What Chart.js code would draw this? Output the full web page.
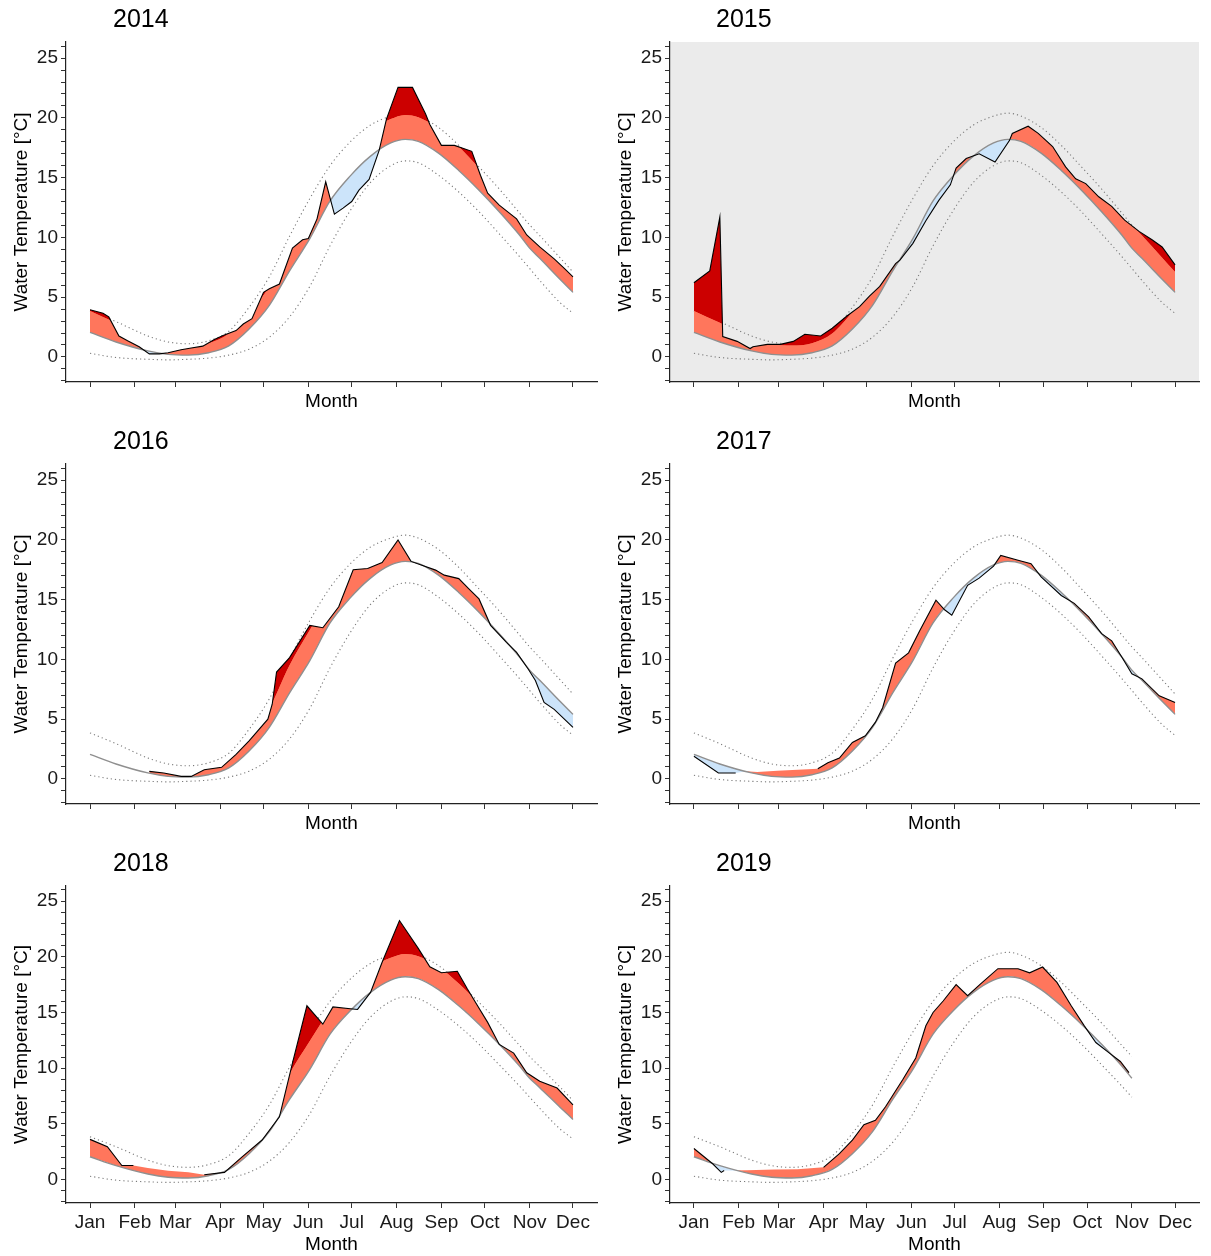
<!DOCTYPE html>
<html>
<head>
<meta charset="utf-8">
<script src="https://cdn.jsdelivr.net/npm/chart.js@4.4.1/dist/chart.umd.min.js"></script>
<style>
  body { margin: 0; background: #fff; }
  #wrap { position: relative; width: 1211px; height: 1256px; }
  #wrap canvas { position: absolute; }
</style>
</head>
<body>
<div id="wrap"></div>
<script>
// x axis: day of year, ticks on the first day of each month
const monthStarts = [1, 32, 60, 91, 121, 152, 182, 213, 244, 274, 305, 335];
const monthLabels = ['Jan', 'Feb', 'Mar', 'Apr', 'May', 'Jun', 'Jul', 'Aug', 'Sep', 'Oct', 'Nov', 'Dec'];
const yTicks = [-2, -1, 0, 1, 2, 3, 4, 5, 6, 7, 8, 9, 10, 11, 12, 13, 14, 15, 16, 17, 18, 19, 20, 21, 22, 23, 24, 25, 26];
const yMajor = [0, 5, 10, 15, 20, 25];

// climatology shared by all years
const climDays   = [1, 19, 41, 55, 69, 83, 97, 111, 125, 139, 153, 167, 181, 195, 209, 219, 228, 242, 256, 270, 284, 298, 305, 312, 326, 335];
const seasClim   = [2.05, 1.25, 0.5, 0.21, 0.15, 0.35, 0.92, 2.33, 4.31, 7.2, 9.9, 13.05, 15.15, 16.8, 17.9, 18.2, 18.04, 17.05, 15.6, 13.95, 12.15, 10.2, 9.1, 8.25, 6.5, 5.4];
const threshClim = [3.85, 2.85, 1.55, 1.05, 0.95, 1.15, 1.95, 3.75, 5.9, 9.5, 12.45, 15.2, 17.4, 19.0, 19.9, 20.25, 20.05, 19.1, 17.6, 15.8, 14.05, 12.05, 11.05, 10.15, 8.3, 7.1];
const upperClim  = [3.85, 2.95, 1.75, 1.25, 1.1, 1.35, 2.15, 4.15, 6.7, 10.1, 13.25, 16.0, 18.0, 19.4, 20.15, 20.4, 20.15, 19.2, 17.7, 15.9, 14.05, 12.05, 11.05, 10.15, 8.3, 7.1];
const lowerClim  = [0.3, -0.05, -0.2, -0.25, -0.2, -0.1, 0.15, 0.65, 1.65, 3.35, 5.9, 9.3, 12.25, 14.6, 16.0, 16.4, 16.25, 15.2, 13.8, 12.15, 10.3, 8.4, 7.4, 6.4, 4.55, 3.65];

// observed water temperature per year
const days2014  = [1, 10, 14, 21, 27, 35, 42, 49, 55, 64, 71, 79, 87, 93, 102, 107, 113, 121, 125, 132, 141, 148, 152, 158, 164, 170, 176, 182, 187, 194, 201, 206, 214, 224, 233, 236, 244, 253, 265, 271, 276, 284, 296, 303, 312, 322, 329, 335];
const temps2014 = [3.95, 3.65, 3.35, 1.75, 1.35, 0.85, 0.25, 0.25, 0.35, 0.6, 0.75, 0.9, 1.45, 1.8, 2.2, 2.75, 3.2, 5.4, 5.7, 6.1, 9.1, 9.8, 9.9, 11.55, 14.65, 11.95, 12.45, 13.0, 13.95, 14.85, 17.3, 19.9, 22.55, 22.55, 20.35, 19.45, 17.7, 17.7, 17.2, 15.2, 13.7, 12.7, 11.55, 10.2, 9.2, 8.2, 7.4, 6.7];

const days2015  = [1, 12, 19, 21, 31, 40, 42, 52, 61, 70, 78, 89, 97, 107, 116, 123, 130, 141, 144, 153, 162, 171, 179, 183, 190, 199, 210, 220, 222, 233, 240, 250, 259, 266, 273, 282, 291, 300, 310, 319, 326, 335];
const temps2015 = [6.2, 7.2, 11.7, 1.7, 1.3, 0.7, 0.85, 1.05, 1.05, 1.3, 1.9, 1.75, 2.4, 3.4, 4.2, 5.1, 5.9, 7.8, 8.1, 9.5, 11.4, 13.1, 14.4, 15.8, 16.6, 17.0, 16.3, 18.1, 18.7, 19.3, 18.7, 17.6, 15.9, 14.9, 14.5, 13.4, 12.6, 11.45, 10.5, 9.8, 9.2, 7.7];

const days2016  = [42, 52, 64, 71, 80, 92, 102, 111, 124, 127, 130, 139, 153, 162, 173, 183, 193, 203, 214, 223, 230, 240, 246, 256, 263, 270, 278, 289, 296, 304, 309, 315, 322, 335];
const temps2016 = [0.63, 0.49, 0.21, 0.21, 0.77, 0.97, 2.05, 3.18, 5.0, 6.25, 8.94, 10.15, 12.85, 12.65, 14.4, 17.5, 17.6, 18.1, 20.0, 18.2, 17.9, 17.47, 17.05, 16.76, 15.9, 15.06, 12.85, 11.43, 10.58, 9.2, 8.23, 6.4, 5.82, 4.31];

const days2017  = [1, 18, 30, 37, 45, 59, 73, 87, 94, 102, 111, 120, 127, 132, 141, 150, 158, 169, 175, 180, 191, 199, 209, 214, 226, 235, 242, 256, 265, 275, 284, 291, 298, 305, 312, 324, 335];
const temps2017 = [1.9, 0.49, 0.49, 0.65, 0.58, 0.69, 0.77, 0.85, 1.35, 1.75, 3.05, 3.61, 4.75, 5.96, 9.7, 10.55, 12.45, 14.95, 14.15, 13.7, 16.2, 16.8, 17.8, 18.7, 18.3, 18.0, 16.9, 15.35, 14.69, 13.55, 12.15, 11.55, 10.2, 8.8, 8.37, 6.95, 6.4];

const days2018  = [1, 13, 23, 31, 41, 55, 69, 80, 94, 106, 120, 132, 141, 151, 162, 169, 181, 186, 195, 203, 215, 228, 236, 244, 255, 262, 269, 276, 284, 294, 303, 312, 324, 335];
const temps2018 = [3.61, 2.95, 1.26, 1.26, 1.05, 0.8, 0.65, 0.44, 0.65, 2.02, 3.55, 5.63, 10.45, 15.6, 13.95, 15.5, 15.33, 15.27, 16.8, 19.5, 23.25, 20.75, 19.1, 18.56, 18.7, 17.1, 15.6, 14.11, 12.13, 11.35, 9.59, 8.83, 8.22, 6.7];

const days2019  = [1, 14, 20, 22, 38, 57, 73, 91, 102, 111, 119, 127, 134, 146, 155, 162, 167, 174, 183, 191, 200, 212, 226, 234, 243, 253, 263, 272, 280, 289, 297, 303];
const temps2019 = [2.79, 1.42, 0.65, 0.81, 0.85, 0.9, 0.93, 1.1, 2.33, 3.55, 4.92, 5.32, 6.54, 8.98, 10.91, 13.8, 15.0, 16.03, 17.5, 16.5, 17.56, 18.93, 18.93, 18.56, 19.08, 17.7, 15.58, 13.8, 12.3, 11.4, 10.6, 9.6];

// stretches (first day, last day) where the observation line is not drawn
const gap2017 = [30, 87];
const gap2018 = [31, 80];
const gap2019 = [22, 91];

const FONT = '"Liberation Sans", Arial, sans-serif';
Chart.defaults.font.family = FONT;

const SALMON = '#ff765c';
const DARK_RED = '#cc0000';
const COLD = '#cce4fa';
const NONE = 'rgba(0,0,0,0)';

const panels = [
  { year: '2014', days: days2014, temps: temps2014, col: 0, row: 0, climEnd: 335 },
  { year: '2015', days: days2015, temps: temps2015, col: 1, row: 0, climEnd: 335, bg: '#ebebeb' },
  { year: '2016', days: days2016, temps: temps2016, col: 0, row: 1, climEnd: 335 },
  { year: '2017', days: days2017, temps: temps2017, col: 1, row: 1, climEnd: 335, gap: gap2017 },
  { year: '2018', days: days2018, temps: temps2018, col: 0, row: 2, climEnd: 335, gap: gap2018 },
  { year: '2019', days: days2019, temps: temps2019, col: 1, row: 2, climEnd: 305, gap: gap2019 }
];

const colLeft = [0, 604], colWidth = [605, 607], colPadRight = [8, 12];
const rowTop = [0, 422, 844], rowHeight = [420, 420, 412], rowPlot = [340, 340, 317];

// panel year label, drawn above the plot area
const yearTitle = {
  id: 'yearTitle',
  afterDraw(chart, args, opts) {
    const ctx = chart.ctx;
    ctx.save();
    ctx.font = '25px ' + FONT;
    ctx.fillStyle = '#000';
    ctx.textBaseline = 'middle';
    ctx.fillText(opts.text, opts.x, 20);
    ctx.restore();
  }
};

// per-dataset compositing: the extreme fill only paints over the anomaly fill,
// the dotted bounds go underneath whatever is already there
const layering = {
  id: 'layering',
  beforeDatasetsDraw(chart) {
    const metas = chart.getSortedVisibleDatasetMetas();
    const first = metas[metas.length - 1];
    chart.ctx.globalCompositeOperation = chart.data.datasets[first.index].composite || 'source-over';
  },
  afterDatasetDraw(chart, args) {
    const metas = chart.getSortedVisibleDatasetMetas();
    const next = metas[metas.indexOf(args.meta) - 1];
    chart.ctx.globalCompositeOperation = next ? (chart.data.datasets[next.index].composite || 'source-over') : 'source-over';
  },
  afterDatasetsDraw(chart, args, opts) {
    const ctx = chart.ctx;
    ctx.globalCompositeOperation = 'source-over';
    if (!opts.bg) return;
    const a = chart.chartArea;
    ctx.save();
    ctx.globalCompositeOperation = 'destination-over';
    ctx.fillStyle = opts.bg;
    ctx.fillRect(a.left, a.top, a.right - a.left, a.bottom - a.top);
    ctx.restore();
  }
};

function buildDatasets(p) {
  const n = climDays.indexOf(p.climEnd) + 1;
  const clim = vals => climDays.slice(0, n).map((d, i) => ({ x: d, y: vals[i] }));
  const obs = p.days.map((d, i) => ({ x: d, y: p.temps[i] }));
  const hideSeg = c => p.gap && c.p0.parsed.x >= p.gap[0] && c.p1.parsed.x <= p.gap[1];
  return [
    { label: 'seas', data: clim(seasClim), borderColor: '#8f8f8f', borderWidth: 1.4,
      cubicInterpolationMode: 'monotone', order: 3 },
    { label: 'upper', data: clim(upperClim), borderColor: '#7a7a7a', borderWidth: 1.1,
      borderDash: [1.2, 3], cubicInterpolationMode: 'monotone', order: 7, composite: 'destination-over' },
    { label: 'lower', data: clim(lowerClim), borderColor: '#7a7a7a', borderWidth: 1.1,
      borderDash: [1.2, 3], cubicInterpolationMode: 'monotone', order: 7, composite: 'destination-over' },
    { label: 'thresh', data: clim(threshClim), borderColor: NONE, borderWidth: 0,
      cubicInterpolationMode: 'monotone', order: 6 },
    { label: 'anomaly', data: obs, borderColor: NONE, borderWidth: 0,
      fill: { target: 0, above: SALMON, below: COLD }, order: 9 },
    { label: 'extreme', data: obs, borderColor: NONE, borderWidth: 0,
      fill: { target: 3, above: DARK_RED, below: NONE }, order: 8, composite: 'source-atop' },
    { label: 'temp', data: obs, borderColor: '#000', borderWidth: 1.1, order: 1,
      segment: { borderColor: c => hideSeg(c) ? NONE : '#000' } }
  ];
}

const wrap = document.getElementById('wrap');

panels.forEach(p => {
  const w = colWidth[p.col], h = rowHeight[p.row];
  const bottomRow = p.row === 2;
  const axisH = h - 42 - rowPlot[p.row];

  const canvas = document.createElement('canvas');
  canvas.width = w;
  canvas.height = h;
  canvas.style.left = colLeft[p.col] + 'px';
  canvas.style.top = rowTop[p.row] + 'px';
  canvas.style.width = w + 'px';
  canvas.style.height = h + 'px';
  wrap.appendChild(canvas);

  new Chart(canvas.getContext('2d'), {
    type: 'line',
    data: { datasets: buildDatasets(p) },
    plugins: [layering, yearTitle],
    options: {
      responsive: false,
      animation: false,
      events: [],
      layout: { padding: { left: 0, right: colPadRight[p.col], top: 42, bottom: 0 } },
      elements: { point: { radius: 0 }, line: { tension: 0 } },
      plugins: {
        legend: { display: false },
        tooltip: { enabled: false },
        yearTitle: { text: p.year, x: p.col === 0 ? 113 : 112 },
        layering: { bg: p.bg || null }
      },
      scales: {
        x: {
          type: 'linear',
          min: -15.6,
          max: 351.6,
          afterBuildTicks: s => { s.ticks = monthStarts.map(v => ({ value: v })); },
          afterFit: s => { s.height = axisH; },
          ticks: {
            display: bottomRow,
            autoSkip: false,
            maxRotation: 0,
            padding: 3,
            color: '#1a1a1a',
            font: { size: 19 },
            callback: v => monthLabels[monthStarts.indexOf(v)]
          },
          grid: { drawOnChartArea: false, tickLength: 5, tickColor: '#333' },
          border: { display: true, color: '#222', width: 1.2 },
          title: {
            display: true, text: 'Month', color: '#000',
            font: { size: 19 }, padding: { top: 0, bottom: bottomRow ? 0 : 6.6 }
          }
        },
        y: {
          type: 'linear',
          min: -2.1,
          max: 26.35,
          afterBuildTicks: s => { s.ticks = yTicks.map(v => ({ value: v })); },
          afterFit: s => { s.width = 66; },
          ticks: {
            autoSkip: false,
            padding: 3,
            color: '#1a1a1a',
            font: { size: 19 },
            callback: v => yMajor.includes(v) ? String(v) : ''
          },
          grid: { drawOnChartArea: false, tickLength: 5, tickColor: '#333' },
          border: { display: true, color: '#222', width: 1.2 },
          title: {
            display: true, text: 'Water Temperature [°C]', color: '#000',
            font: { size: 19 }, padding: { top: 10, bottom: 0 }
          }
        }
      }
    }
  });
});
</script>
</body>
</html>
